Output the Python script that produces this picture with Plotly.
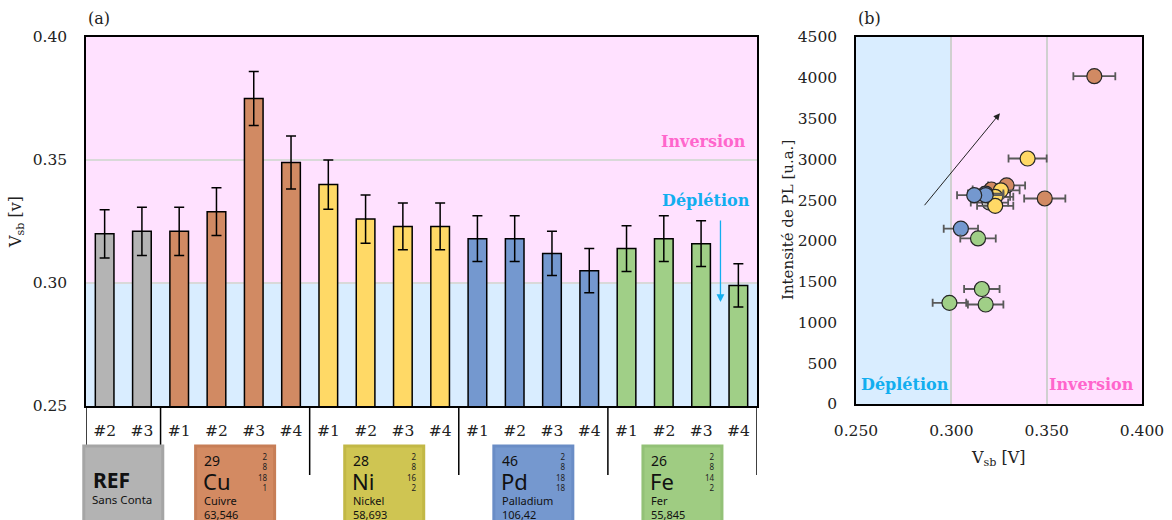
import plotly.graph_objects as go

W, H = 1172, 520

def px(x):
    return x / W

def py(y):
    return 1 - y / H

# ---- data ----
samples = ["#2", "#3", "#1", "#2", "#3", "#4", "#1", "#2", "#3", "#4",
           "#1", "#2", "#3", "#4", "#1", "#2", "#3", "#4"]
groups = ["REF"] * 2 + ["Cu"] * 4 + ["Ni"] * 4 + ["Pd"] * 4 + ["Fe"] * 4
vsb = [0.320, 0.321, 0.321, 0.329, 0.375, 0.349, 0.340, 0.326, 0.323, 0.323,
       0.318, 0.318, 0.312, 0.305, 0.314, 0.318, 0.316, 0.299]
vsb_err = [0.0098, 0.0098, 0.0098, 0.0097, 0.011, 0.0108, 0.010, 0.0098, 0.0095, 0.0095,
           0.0093, 0.0093, 0.009, 0.009, 0.0093, 0.0093, 0.0093, 0.0088]
pl_intensity = [2470, 2540, 2630, 2680, 4020, 2520, 3010, 2620, 2540, 2430,
                2580, 2560, 2560, 2150, 2030, 1220, 1410, 1240]

group_names = ["REF", "Cu", "Ni", "Pd", "Fe"]
group_colors = {"REF": "#B4B4B4", "Cu": "#D18A63", "Ni": "#FFD966",
                "Pd": "#7498CF", "Fe": "#A0CF87"}

# periodic table tiles
tile_symbols = ["REF", "Cu", "Ni", "Pd", "Fe"]
tile_numbers = ["", "29", "28", "46", "26"]
tile_names = ["Sans Conta", "Cuivre", "Nickel", "Palladium", "Fer"]
tile_masses = ["", "63,546", "58,693", "106,42", "55,845"]
tile_shells = ["", "2<br>8<br>18<br>1", "2<br>8<br>16<br>2", "2<br>8<br>18<br>18", "2<br>8<br>14<br>2"]
tile_fill = ["#B3B3B3", "#D38A62", "#CFC552", "#7598CF", "#9FCC82"]
tile_edge = ["#A5A5A5", "#C77E57", "#C2B846", "#6A8DC6", "#93C177"]

PINK = "#FFE1FF"
BLUE = "#D9EDFF"
SERIF = "DejaVu Serif"
SANS = "Noto Sans"

idx = list(range(len(samples)))

fig = go.Figure()

# (a) bars
fig.add_trace(go.Bar(
    x=idx, y=vsb, width=0.5,
    marker=dict(color=[group_colors[g] for g in groups], line=dict(color="black", width=1.5)),
    error_y=dict(type="data", array=vsb_err, color="black", thickness=1.5, width=5),
    xaxis="x", yaxis="y", showlegend=False,
))

# (b) scatter, one trace per group
for g in group_names:
    xs = [v for v, gg in zip(vsb, groups) if gg == g]
    ys = [p for p, gg in zip(pl_intensity, groups) if gg == g]
    es = [e for e, gg in zip(vsb_err, groups) if gg == g]
    fig.add_trace(go.Scatter(
        x=xs, y=ys, mode="markers",
        marker=dict(size=15, color=group_colors[g], line=dict(color="#262626", width=1.2)),
        error_x=dict(type="data", array=es, color="#595959", thickness=1.8, width=4),
        xaxis="x2", yaxis="y2", showlegend=False,
    ))

shapes = []
# background regions (a)
shapes.append(dict(type="rect", xref="x domain", yref="y", x0=0, x1=1, y0=0.30, y1=0.40,
                   fillcolor=PINK, line_width=0, layer="below"))
shapes.append(dict(type="rect", xref="x domain", yref="y", x0=0, x1=1, y0=0.25, y1=0.30,
                   fillcolor=BLUE, line_width=0, layer="below"))
# background regions (b)
shapes.append(dict(type="rect", xref="x2", yref="y2 domain", x0=0.25, x1=0.30, y0=0, y1=1,
                   fillcolor=BLUE, line_width=0, layer="below"))
shapes.append(dict(type="rect", xref="x2", yref="y2 domain", x0=0.30, x1=0.40, y0=0, y1=1,
                   fillcolor=PINK, line_width=0, layer="below"))

# group separators below the category axis
for xb in [1.5, 5.5, 9.5, 13.5, 17.5]:
    shapes.append(dict(type="line", xref="x", yref="paper", x0=xb, x1=xb,
                       y0=py(406), y1=py(475), line=dict(color="black", width=1.5)))
shapes.append(dict(type="line", xref="x", yref="paper", x0=-0.5, x1=-0.5,
                   y0=py(406), y1=py(445), line=dict(color="black", width=1.5)))

annotations = []
# tiles
ax0, ax1 = 86, 757
cat_w = (ax1 - ax0) / len(samples)
for i, g in enumerate(group_names):
    members = [k for k, gg in enumerate(groups) if gg == g]
    c = sum(members) / len(members)
    cx = ax0 + (c + 0.5) * cat_w
    x0 = cx - 39.5
    shapes.append(dict(type="rect", xref="paper", yref="paper", x0=px(x0), x1=px(x0 + 79),
                       y0=py(446), y1=py(540), fillcolor=tile_fill[i],
                       line=dict(color=tile_edge[i], width=3)))
    if g == "REF":
        annotations.append(dict(x=px(x0 + 7), y=py(480), xref="paper", yref="paper",
                                text="<b>REF</b>", showarrow=False, xanchor="left", yanchor="middle",
                                font=dict(family=SANS, size=21, color="#111")))
        annotations.append(dict(x=px(x0 + 6), y=py(499), xref="paper", yref="paper",
                                text=tile_names[i], showarrow=False, xanchor="left", yanchor="middle",
                                font=dict(family=SANS, size=11.5, color="#111")))
        continue
    annotations.append(dict(x=px(x0 + 6), y=py(460), xref="paper", yref="paper",
                            text=tile_numbers[i], showarrow=False, xanchor="left", yanchor="middle",
                            font=dict(family=SANS, size=14, color="#111")))
    annotations.append(dict(x=px(x0 + 5), y=py(481), xref="paper", yref="paper",
                            text=tile_symbols[i], showarrow=False, xanchor="left", yanchor="middle",
                            font=dict(family=SANS, size=22, color="#111")))
    annotations.append(dict(x=px(x0 + 6), y=py(491), xref="paper", yref="paper",
                            text=tile_names[i] + "<br>" + tile_masses[i], showarrow=False,
                            xanchor="left", yanchor="top", align="left",
                            font=dict(family=SANS, size=11, color="#111")))
    annotations.append(dict(x=px(x0 + 74), y=py(449), xref="paper", yref="paper",
                            text=tile_shells[i], showarrow=False, xanchor="right", yanchor="top",
                            align="right", font=dict(family=SANS, size=8, color="#222")))

# panel labels and axis titles
annotations += [
    dict(x=px(86), y=py(19), xref="paper", yref="paper", text="(a)", showarrow=False,
         xanchor="left", yanchor="middle", font=dict(family=SERIF, size=16, color="#222")),
    dict(x=px(856), y=py(19), xref="paper", yref="paper", text="(b)", showarrow=False,
         xanchor="left", yanchor="middle", font=dict(family=SERIF, size=16, color="#222")),
    dict(x=px(16), y=py(222), xref="paper", yref="paper", text="V<sub>sb</sub> [v]", showarrow=False,
         textangle=-90, xanchor="center", yanchor="middle", font=dict(family=SERIF, size=16, color="#222")),
    dict(x=px(788), y=py(220), xref="paper", yref="paper", text="Intensité de PL [u.a.]", showarrow=False,
         textangle=-90, xanchor="center", yanchor="middle", font=dict(family=SERIF, size=15, color="#222")),
    dict(x=px(998), y=py(458), xref="paper", yref="paper", text="V<sub>sb</sub> [V]", showarrow=False,
         xanchor="center", yanchor="middle", font=dict(family=SERIF, size=16, color="#222")),
    # region labels (a)
    dict(x=0.9866, y=0.3577, xref="x domain", yref="y", text="<b>Inversion</b>", showarrow=False,
         xanchor="right", yanchor="middle", font=dict(family=SERIF, size=16, color="#FF66CC")),
    dict(x=0.992, y=0.3337, xref="x domain", yref="y", text="<b>Déplétion</b>", showarrow=False,
         xanchor="right", yanchor="middle", font=dict(family=SERIF, size=16, color="#12AEEF")),
    dict(x=16.52, y=0.2923, xref="x", yref="y", ax=16.52, ay=0.326, axref="x", ayref="y",
         text="", showarrow=True, arrowhead=2, arrowsize=1.2, arrowwidth=1.3, arrowcolor="#12AEEF"),
    # region labels (b)
    dict(x=0.2517, y=240, xref="x2", yref="y2", text="<b>Déplétion</b>", showarrow=False,
         xanchor="left", yanchor="middle", font=dict(family=SERIF, size=16, color="#12AEEF")),
    dict(x=0.3502, y=240, xref="x2", yref="y2", text="<b>Inversion</b>", showarrow=False,
         xanchor="left", yanchor="middle", font=dict(family=SERIF, size=16, color="#FF66CC")),
    dict(x=0.3255, y=3564, xref="x2", yref="y2", ax=0.2853, ay=2419, axref="x2", ayref="y2",
         text="", showarrow=True, arrowhead=2, arrowsize=1.3, arrowwidth=1, arrowcolor="#222"),
]

tickfont = dict(family=SERIF, size=15.5, color="#222")
axis_common = dict(showline=True, mirror=True, linecolor="black", linewidth=1.5,
                   zeroline=False, ticks="", tickfont=tickfont, automargin=False)

fig.update_layout(
    template="none",
    width=W, height=H,
    margin=dict(l=0, r=0, t=0, b=0),
    paper_bgcolor="white", plot_bgcolor="white",
    showlegend=False,
    shapes=shapes, annotations=annotations,
    xaxis=dict(domain=[px(86), px(757)], range=[-0.5, 17.5], tickvals=idx, ticktext=samples,
               showgrid=False, anchor="y", ticklabelstandoff=10, **axis_common),
    yaxis=dict(domain=[py(406), py(37)], range=[0.25, 0.40], tickvals=[0.25, 0.30, 0.35, 0.40],
               tickformat=".2f", showgrid=True, gridcolor="#D9D9D9", gridwidth=1.5, anchor="x",
               ticklabelstandoff=14, **axis_common),
    xaxis2=dict(domain=[px(856), px(1142)], range=[0.25, 0.40], tickvals=[0.25, 0.30, 0.35, 0.40],
                tickformat=".3f", showgrid=True, gridcolor="#D0D0D0", gridwidth=2, anchor="y2",
                ticklabelstandoff=12, **axis_common),
    yaxis2=dict(domain=[py(404), py(37)], range=[0, 4500], dtick=500, showgrid=False, anchor="x2",
                ticklabelstandoff=14, **axis_common),
)

# the page body has a default 8px margin; drop it so the figure fills the window
fig.write_html("out.html", config={"displayModeBar": False},
               post_script="document.body.style.margin='0';")
